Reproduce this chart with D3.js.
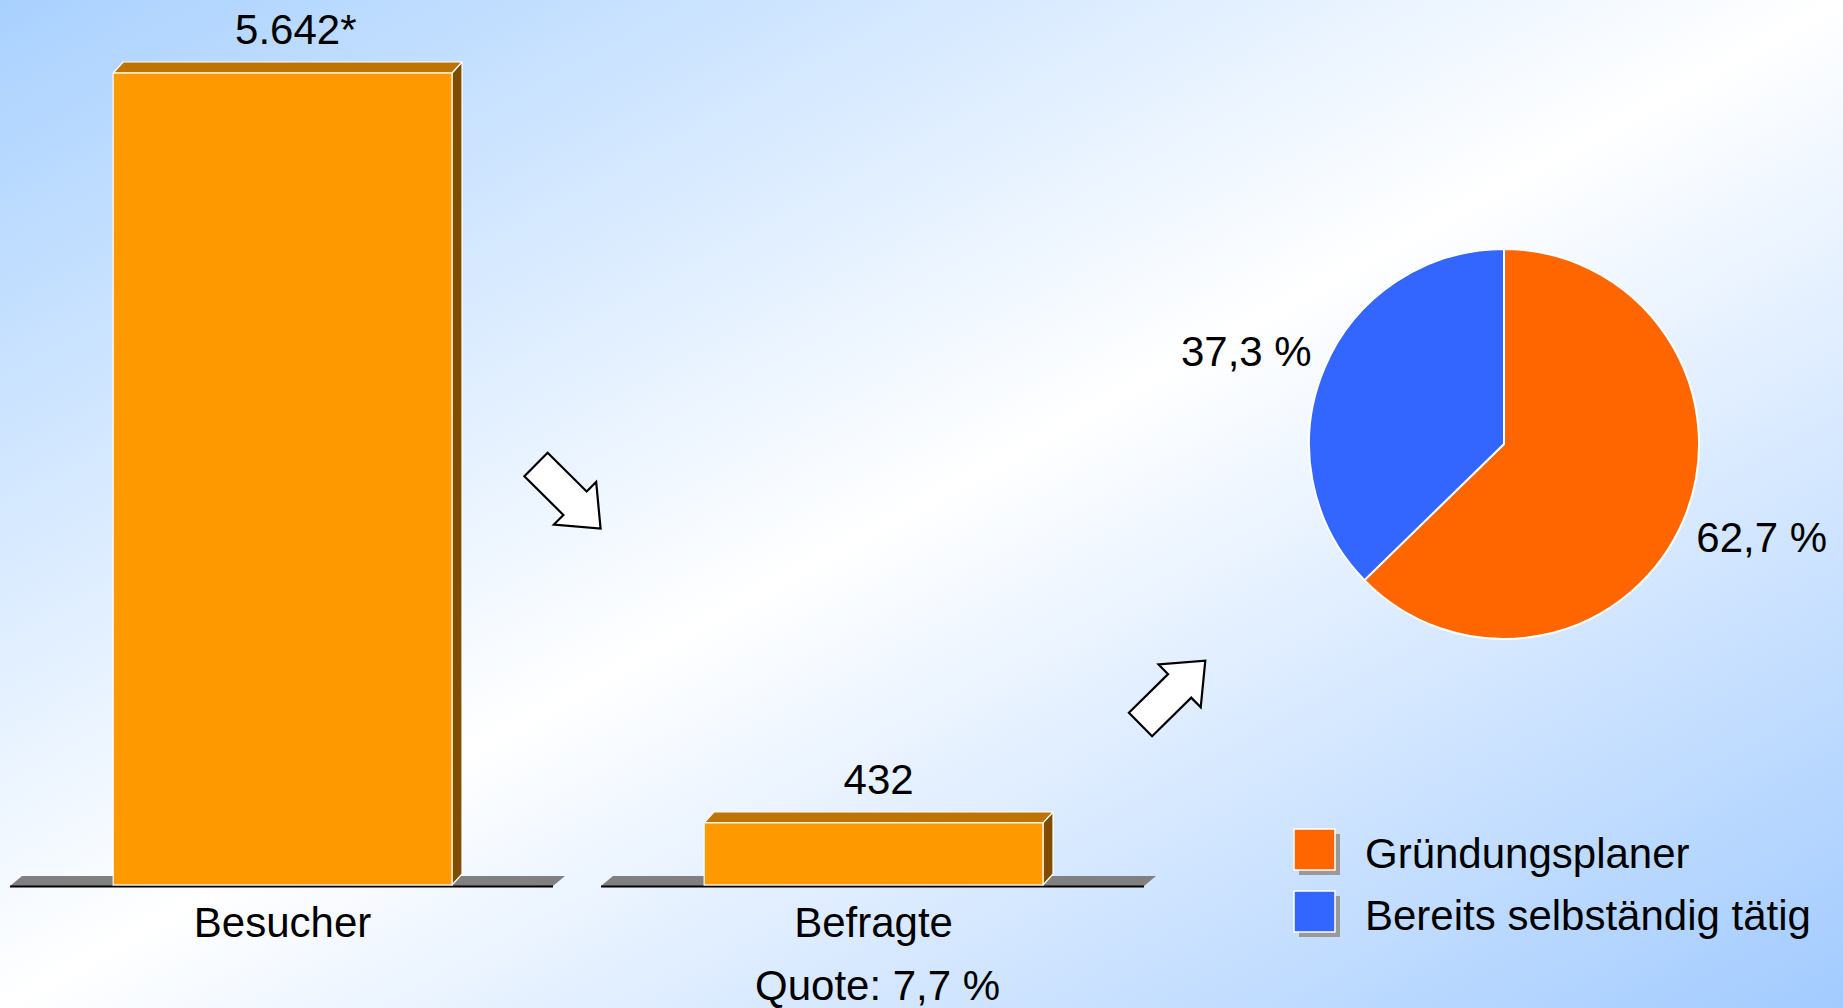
<!DOCTYPE html>
<html>
<head>
<meta charset="utf-8">
<script src="https://cdn.jsdelivr.net/npm/d3@7"></script>
<style>
  html, body { margin: 0; padding: 0; overflow: hidden; }
  svg { display: block; }
  text { font-family: "Liberation Sans", Arial, sans-serif; fill: #000; }
</style>
</head>
<body>
<svg id="chart" width="1843" height="1008"></svg>
<script>
// ---- data ----
const barCategories = ["Besucher", "Befragte"];
const barValues = [5642, 432];
const barValueLabels = ["5.642", "432"];
const barFootnotes = ["*", ""];
const quoteLabel = "Quote: 7,7 %";

const pieCategories = ["Gründungsplaner", "Bereits selbständig tätig"];
const pieValues = [62.7, 37.3];
const pieLabels = ["62,7 %", "37,3 %"];

// ---- styles ----
const W = 1843, H = 1008;
const FONT = 42;
const barFront = "#ff9900", barTop = "#bf7300", barSide = "#7f4c00";
const floorColor = "#808080";
const pieColors = ["#ff6600", "#3366ff"];
const depthX = 10, depthY = 11;

const svg = d3.select("#chart");

// background gradient (diagonal, blue - white - blue)
const defs = svg.append("defs");
const grad = defs.append("linearGradient").attr("id", "bg")
  .attr("x1", 0).attr("y1", 0).attr("x2", 1).attr("y2", 1);
grad.append("stop").attr("offset", "0%").attr("stop-color", "#a9d1ff");
grad.append("stop").attr("offset", "50%").attr("stop-color", "#ffffff");
grad.append("stop").attr("offset", "100%").attr("stop-color", "#a2cbff");
svg.append("rect").attr("width", W).attr("height", H).attr("fill", "url(#bg)");

// ---- bar panels ----
const baseY = 885;
const panel = d3.scaleBand().domain(barCategories).range([10, 1144]).paddingInner(0.0812).paddingOuter(0);
const y = d3.scaleLinear().domain([0, 5642]).range([baseY, 73]);
const bw = panel.bandwidth();
const barOffset = bw * 0.19, barW = bw * 0.624;

barCategories.forEach((cat, i) => {
  const px = panel(cat);
  const g = svg.append("g");
  // floor
  const fdx = 12, fdy = 10;
  g.append("path")
    .attr("d", `M${px},${baseY + 1} L${px + fdx},${baseY + 1 - fdy} L${px + bw + fdx},${baseY + 1 - fdy} L${px + bw},${baseY + 1} Z`)
    .attr("fill", floorColor);
  g.append("line")
    .attr("x1", px).attr("x2", px + bw).attr("y1", baseY + 1.5).attr("y2", baseY + 1.5)
    .attr("stroke", "#000").attr("stroke-width", 2);

  const x0 = px + barOffset, x1 = x0 + barW;
  const yt = y(barValues[i]);
  // side face
  g.append("path")
    .attr("d", `M${x1},${yt} L${x1 + depthX},${yt - depthY} L${x1 + depthX},${baseY - depthY} L${x1},${baseY} Z`)
    .attr("fill", barSide).attr("stroke", "#fff").attr("stroke-width", 1.2).attr("stroke-linejoin", "round");
  // top face
  g.append("path")
    .attr("d", `M${x0},${yt} L${x0 + depthX},${yt - depthY} L${x1 + depthX},${yt - depthY} L${x1},${yt} Z`)
    .attr("fill", barTop).attr("stroke", "#fff").attr("stroke-width", 1.2).attr("stroke-linejoin", "round");
  // front face
  g.append("rect")
    .attr("x", x0).attr("y", yt).attr("width", barW).attr("height", baseY - yt)
    .attr("fill", barFront).attr("stroke", "#fff").attr("stroke-width", 1.2);

  // value label
  const cx = x0 + barW / 2 + depthX / 2;
  const vt = g.append("text")
    .attr("x", cx).attr("y", yt - depthY - 18)
    .attr("text-anchor", "middle").attr("font-size", FONT)
    .text(barValueLabels[i]);
  if (barFootnotes[i]) {
    const len = vt.node().getComputedTextLength();
    g.append("text")
      .attr("x", cx + len / 2).attr("y", yt - depthY - 18)
      .attr("font-size", FONT).text(barFootnotes[i]);
  }
  // category label
  g.append("text")
    .attr("x", x0 + barW / 2).attr("y", baseY + 52)
    .attr("text-anchor", "middle").attr("font-size", FONT)
    .text(cat);
  if (i === 1) {
    g.append("text")
      .attr("x", x0 + barW / 2 + 4).attr("y", baseY + 115)
      .attr("text-anchor", "middle").attr("font-size", FONT)
      .text(quoteLabel);
  }
});

// ---- arrows (decorative) ----
function arrowPath() {
  const L1 = 55, L = 91, w = 16.5, hw = 30;
  return `M0,${-w} L${L1},${-w} L${L1},${-hw} L${L},0 L${L1},${hw} L${L1},${w} L0,${w} Z`;
}
[[536, 464.5, 44.8], [1140.5, 724.5, -44.6]].forEach(a => {
  svg.append("path")
    .attr("d", arrowPath())
    .attr("transform", `translate(${a[0]},${a[1]}) rotate(${a[2]})`)
    .attr("fill", "#fff").attr("stroke", "#000").attr("stroke-width", 2.2)
    .attr("stroke-linejoin", "miter");
});

// ---- pie ----
const pcx = 1504, pcy = 444, r = 195;
const pie = d3.pie().sort(null).value(d => d)(pieValues);
const arc = d3.arc().innerRadius(0).outerRadius(r);
const pg = svg.append("g").attr("transform", `translate(${pcx},${pcy})`);
pg.selectAll("path").data(pie).join("path")
  .attr("d", arc)
  .attr("fill", (d, i) => pieColors[i])
  .attr("stroke", "#fff").attr("stroke-width", 2);
const labelArc = d3.arc().innerRadius(274).outerRadius(274);
const labelShift = -3 * Math.PI / 180;
pg.selectAll("text").data(pie).join("text")
  .attr("transform", d => `translate(${labelArc.centroid({startAngle: d.startAngle + labelShift, endAngle: d.endAngle + labelShift})})`)
  .attr("text-anchor", "middle").attr("dy", "0.36em")
  .attr("font-size", FONT)
  .text((d, i) => pieLabels[i]);

// ---- legend ----
const lg = svg.append("g").attr("transform", "translate(1294,829)");
pieCategories.forEach((c, i) => {
  const gy = i * 62;
  lg.append("rect").attr("x", 5).attr("y", gy + 5).attr("width", 41).attr("height", 41).attr("fill", "#999");
  lg.append("rect").attr("x", 0).attr("y", gy).attr("width", 41).attr("height", 41)
    .attr("fill", pieColors[i]).attr("stroke", "#fff").attr("stroke-width", 1.5);
  lg.append("text").attr("x", 71).attr("y", gy + 39).attr("font-size", FONT).text(c);
});
</script>
</body>
</html>
